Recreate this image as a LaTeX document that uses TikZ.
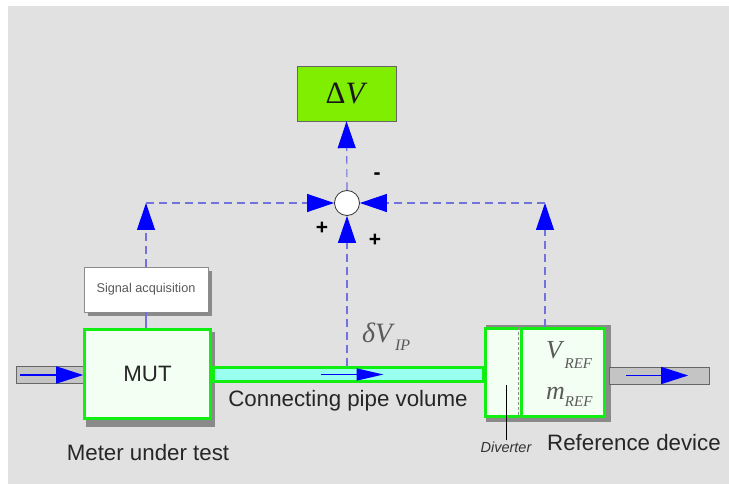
\documentclass[tikz,border=0pt]{standalone}
\usepackage{fontspec}
\setmainfont{Liberation Sans}
\newfontfamily\serif{Liberation Serif}
\usetikzlibrary{positioning,arrows.meta,backgrounds}
\definecolor{bggray}{HTML}{E1E1E1}
\definecolor{brightgreen}{HTML}{11EE11}
\definecolor{dvgreen}{HTML}{80EE00}
\definecolor{boxfill}{HTML}{F3FFF3}
\definecolor{pipecyan}{HTML}{99FFEE}
\definecolor{pipegray}{HTML}{C4C4C4}
\definecolor{shadowgray}{HTML}{8A8A8A}
\definecolor{dashblue}{HTML}{7272DD}
\definecolor{valgray}{HTML}{5A5A5A}
\pgfdeclarelayer{back}
\pgfsetlayers{back,background,main}

\begin{document}
\begin{tikzpicture}[x=1pt,y=-1pt,
  every node/.style={font=\fontsize{22.3}{25}\selectfont, text=black!85},
  greenbox/.style={
    draw=brightgreen, line width=3pt, fill=boxfill, inner sep=0pt,
  },
  pipebox/.style={draw=black!60, fill=pipegray, inner sep=0pt,
    minimum height=17pt},
  sigbox/.style={
    draw=black!45, fill=white, minimum width=124pt, minimum height=45pt,
    font=\fontsize{12.7}{14}\selectfont, text=black!65,
  },
  dvbox/.style={draw=black!60, fill=dvgreen, minimum width=99pt,
    minimum height=55pt, font=\serif\fontsize{31}{33}\selectfont,
    text=black!90},
  sumpt/.style={circle, draw=black!80, fill=white, line width=0.8pt,
    minimum size=25pt, inner sep=0pt},
  sign/.style={font=\bfseries\fontsize{21}{21}\selectfont, text=black},
  valfont/.style={font=\serif\fontsize{26}{28}\selectfont, text=valgray,
    inner sep=0pt},
  sigline/.style={draw=dashblue, line width=1.1pt,
    dash pattern=on 8pt off 5pt},
  bigarrow/.style={-{Triangle[length=27pt,width=18pt,color=blue]}},
  flow/.style={draw=blue, line width=1.5pt,
    -{Triangle[length=27pt,width=17pt]}},
  boxshadow/.style={fill=shadowgray},
]
  \useasboundingbox (0,0) rectangle (729,484);
  \begin{pgfonlayer}{back}
    \fill[bggray] (8,6) rectangle (729,484);
  \end{pgfonlayer}

  % result and summing point
  \node[dvbox] (dV) at (346.5,93.5) {Δ\textit{V}};
  \node[sumpt] (sum) at (347,203) {};
  \node[sign] (plusl) at (322,228) {+};
  \node[sign] (plusr) at (375,240) {+};
  \node[sign] (minus) at (377,176) {-};

  % pipes and devices
  \node[pipebox, minimum width=67pt] (inlet) at (49.5,375) {};
  \node[pipebox, minimum width=100pt] (outlet) at (659,375.5) {};
  \node[sigbox] (sig) at (146,289.5) {Signal acquisition};
  \node[greenbox, minimum width=126pt, minimum height=89pt] (mut)
    at (147.5,374) {MUT};
  \node[draw=brightgreen, line width=3pt, fill=pipecyan, inner sep=0pt,
    minimum width=270pt, minimum height=14pt] (pipe) at (348.5,374.5) {};
  \node[greenbox, minimum width=119pt, minimum height=88pt] (ref)
    at (545,372.5) {};
  \draw[black!45, dash pattern=on 3pt off 2pt]
    ([xshift=-26.5pt]ref.north) -- ([xshift=-26.5pt]ref.south);
  \draw[brightgreen, line width=3pt]
    ([xshift=-24pt]ref.north) -- ([xshift=-24pt]ref.south);

  % shadows
  \begin{pgfonlayer}{background}
    \fill[boxshadow] ([shift={(4,4)}]sig.north west)
      rectangle ([shift={(4,4)}]sig.south east);
    \fill[boxshadow] ([shift={(3,4)}]mut.north west)
      rectangle ([shift={(3,7)}]mut.south east);
    \fill[boxshadow] ([shift={(2,-2)}]ref.north west)
      rectangle ([shift={(5,4)}]ref.south east);
  \end{pgfonlayer}

  % values
  \node[valfont, anchor=base west, font=\serif\fontsize{28}{30}\selectfont]
    (dvip) at (362,342)
    {\textit{δV}\raisebox{-8pt}{\fontsize{16}{16}\selectfont\textit{IP}}};
  \node[valfont, anchor=base west] (vref) at (546,358)
    {\textit{V}\raisebox{-10pt}{\fontsize{15}{15}\selectfont\textit{REF}}};
  \node[valfont, anchor=base west] (mref) at (546,399)
    {\textit{m}\raisebox{-7pt}{\fontsize{15}{15}\selectfont\textit{REF}}};

  % labels
  \node (mutlbl) at (148,453) {Meter under test};
  \node (pipelbl) at (348,401) {Connecting pipe volume};
  \node[anchor=west, inner sep=0pt] (reflbl) at (547,443) {Reference device};
  \node[font=\itshape\fontsize{14.5}{16}\selectfont, text=black!80,
    inner sep=1pt] (divlbl) at (506,447) {Diverter};
  \coordinate (divtop) at (505,385);
  \draw[black, line width=0.8pt] (divlbl.north) -- (divlbl.north |- divtop);

  % flow arrows
  \draw[flow] ([xshift=4pt]inlet.west) -- (inlet.east);
  \draw[flow, -{Triangle[length=27pt,width=12pt]}]
    ([xshift=-28pt]pipe.center) -- ([xshift=35pt]pipe.center);
  \draw[flow] ([xshift=17pt]outlet.west) -- ([xshift=-21pt]outlet.east);

  % signal lines
  \coordinate (cl) at (sig.north |- sum);
  \coordinate (cr) at (ref.north |- sum);
  \draw[draw=dashblue, line width=1.1pt] (sig.south) -- (sig.south |- mut.north);
  \draw[sigline, bigarrow] (sig.north) -- (cl);
  \draw[sigline, bigarrow] (cl) -- (sum.west);
  \draw[sigline, bigarrow] (ref.north) -- (cr);
  \draw[sigline, bigarrow] (cr) -- (sum.east);
  \draw[sigline, bigarrow] (sum |- pipe.north) -- (sum.south);
  \draw[sigline, bigarrow] (sum.north) -- (dV.south);
\end{tikzpicture}
\end{document}
